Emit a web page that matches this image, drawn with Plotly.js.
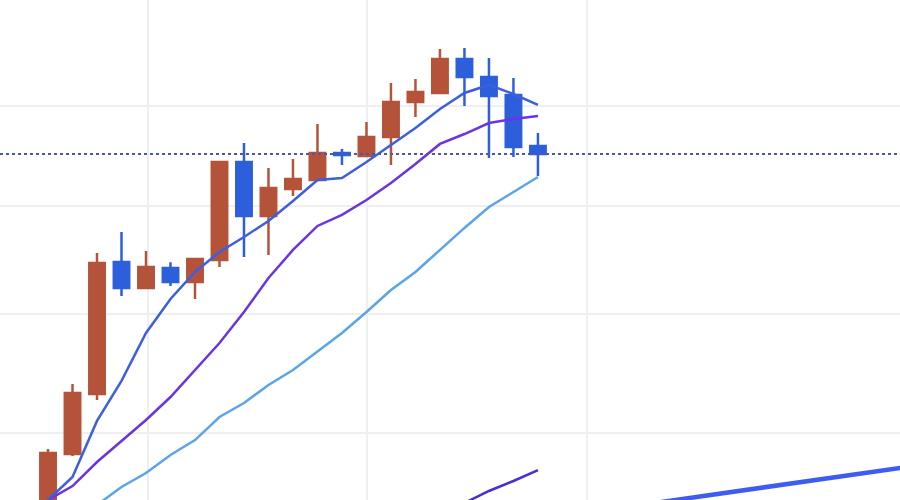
<!DOCTYPE html>
<html>
<head>
<meta charset="utf-8">
<script src="https://cdn.plot.ly/plotly-3.0.1.min.js"></script>
<style>html,body{margin:0;padding:0;background:#fff;}#chart{width:900px;height:500px;}</style>
</head>
<body>
<div id="chart"></div>
<script>
// Session index (x)
const sessions = [0,1,2,3,4,5,6,7,8,9,10,11,12,13,14,15,16,17,18,19,20];
// OHLC values
const open  = [91.73,98.30,103.16,114.72,112.34,114.16,112.89,114.90,124.32,119.04,121.65,122.54,125.23,124.92,126.85,130.47,131.42,135.06,133.12,131.21,125.93];
const high  = [98.70,103.99,115.55,117.52,115.74,114.70,115.09,124.42,126.24,123.72,124.62,128.18,125.63,128.39,132.48,132.91,136.15,136.26,135.17,133.01,127.26];
const low   = [91.36,98.14,102.66,111.62,112.34,112.52,111.35,114.26,115.18,115.36,120.97,122.44,124.02,124.82,124.02,128.90,131.31,130.05,124.72,124.82,122.93];
const close = [98.38,103.24,114.62,112.34,114.26,112.89,114.99,124.32,119.04,121.75,122.63,125.23,125.02,126.85,130.47,131.52,135.06,133.12,131.10,125.83,125.13];
// Moving averages
const ma5  = [94.73,96.50,100.95,104.25,108.35,111.35,113.80,115.64,117.05,118.56,120.48,122.54,122.73,124.32,126.03,127.77,129.74,131.42,132.27,131.31,130.16];
const ma10 = [94.73,95.80,97.67,99.33,101.03,102.91,105.17,107.48,110.19,113.25,115.83,118.09,119.14,120.58,122.24,124.12,126.14,127.15,128.28,128.70,129.01];
const ma20 = [92.47,93.37,94.35,95.73,96.81,98.22,99.41,101.27,102.42,103.91,105.17,106.71,108.35,110.19,112.16,113.80,115.83,117.90,119.90,121.36,122.83];
const maLongX = [15,16,17,18,19,20];
const maLong  = [92.70,93.60,94.50,95.42,96.19,97.04];
const trendX = [24,36];
const trendY = [94.30,97.54];
// Axis ticks
const xTicks = [4.08,13.02,22.0];
const yTicks = [100,110,120,130];

const traces = [
  {type:'scatter',mode:'lines',x:sessions,y:ma20,line:{color:'#5ba4e8',width:2.5},hoverinfo:'skip'},
  {type:'scatter',mode:'lines',x:sessions,y:ma10,line:{color:'#6b34e2',width:2.5},hoverinfo:'skip'},
  {type:'scatter',mode:'lines',x:sessions,y:ma5,line:{color:'#3c5fe0',width:2.5},hoverinfo:'skip'},
  {type:'scatter',mode:'lines',x:maLongX,y:maLong,line:{color:'#4a2fd0',width:2.5},hoverinfo:'skip'},
  {type:'scatter',mode:'lines',x:trendX,y:trendY,line:{color:'#3d5cf0',width:4.5},hoverinfo:'skip'},
  {type:'candlestick',x:sessions,open:open,high:high,low:low,close:close,
   increasing:{line:{color:'#b5533a',width:2.5},fillcolor:'#b5533a'},
   decreasing:{line:{color:'#2d5fdc',width:2.5},fillcolor:'#2d5fdc'},
   whiskerwidth:0,hoverinfo:'skip'}
];
const last = close[close.length-1];
const layout = {
  width:900,height:500,
  margin:{l:0,r:0,t:0,b:0},
  paper_bgcolor:'#ffffff',plot_bgcolor:'#ffffff',
  showlegend:false,
  boxgap:0.1,
  xaxis:{range:[-1.96,34.78],tickvals:xTicks,showticklabels:false,showgrid:true,gridcolor:'#efefef',gridwidth:2,zeroline:false,showline:false,ticks:'',rangeslider:{visible:false}},
  yaxis:{type:'log',range:[1.97649,2.15113],tickvals:yTicks,showticklabels:false,showgrid:true,gridcolor:'#efefef',gridwidth:2,zeroline:false,showline:false,ticks:''},
  shapes:[{type:'line',xref:'paper',x0:0,x1:1,yref:'y',y0:last,y1:last,line:{color:'#4b57a8',width:2,dash:'dot'}}]
};
Plotly.newPlot('chart',traces,layout,{displayModeBar:false,staticPlot:true});
</script>
</body>
</html>
